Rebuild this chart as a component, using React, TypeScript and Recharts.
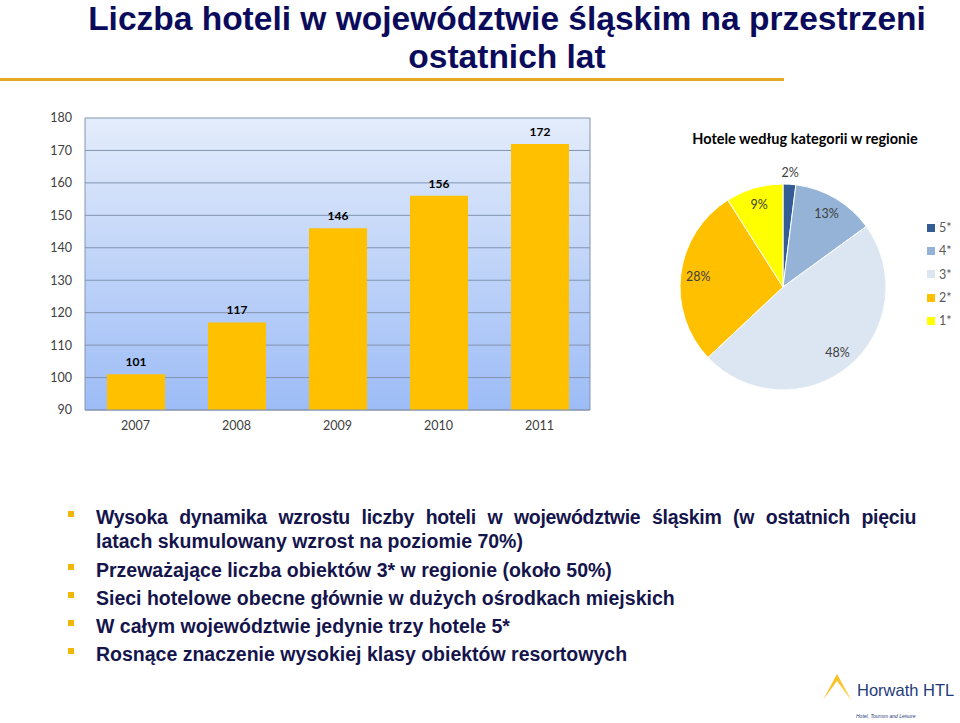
import React from 'react';
import { BarChart, Bar, XAxis, YAxis, CartesianGrid, LabelList, PieChart, Pie, Cell, Legend } from 'recharts';

const years = ['2007', '2008', '2009', '2010', '2011'];
const hotelCounts = [101, 117, 146, 156, 172];
const yTicks = [90, 100, 110, 120, 130, 140, 150, 160, 170, 180];

const categories = ['5*', '4*', '3*', '2*', '1*'];
const categoryShares = [2, 13, 48, 28, 9];
const categoryColors = ['#335d94', '#95b3d7', '#dce6f2', '#ffc000', '#ffff00'];

const titleLines = ['Liczba hoteli w województwie śląskim na przestrzeni', 'ostatnich lat'];
const pieTitle = 'Hotele według kategorii w regionie';
const bulletFirstLine = 'Wysoka dynamika wzrostu liczby hoteli w województwie śląskim (w ostatnich pięciu';
const bulletFirstWrap = 'latach skumulowany wzrost na poziomie 70%)';
const bulletOthers = [
  'Przeważające liczba obiektów 3* w regionie (około 50%)',
  'Sieci hotelowe obecne głównie w dużych ośrodkach miejskich',
  'W całym województwie jedynie trzy hotele 5*',
  'Rosnące znaczenie wysokiej klasy obiektów resortowych',
];

const barData = years.map((year, i) => ({ year, count: hotelCounts[i] }));
const pieData = categories.map((name, i) => ({ name, value: categoryShares[i] }));

const RAD = Math.PI / 180;
const chartFont = 'Lato, "Open Sans", sans-serif';

const renderPieLabel = (props: any) => {
  const { cx, cy, midAngle, outerRadius, value } = props;
  const r = value < 5 ? outerRadius + 12 : outerRadius * 0.83;
  const x = cx + r * Math.cos(-midAngle * RAD);
  const y = cy + r * Math.sin(-midAngle * RAD);
  return (
    <text x={x} y={y} textAnchor="middle" dominantBaseline="central" fill="#404040" fontSize={12.5} fontFamily={chartFont}>
      {value}%
    </text>
  );
};

const PieLegend = () => (
  <div style={{ fontFamily: chartFont, fontSize: 12.5, color: '#595959' }}>
    {categories.map((c, i) => (
      <div key={c} style={{ display: 'flex', alignItems: 'center', height: 23.3 }}>
        <div style={{ width: 8, height: 8, background: categoryColors[i], marginRight: 4 }} />
        <span>{c}</span>
      </div>
    ))}
  </div>
);

const navy = '#0b0b5c';
const textNavy = '#15154c';

export default function App() {
  const bulletLines = [
    { text: bulletFirstLine, y: 517, bullet: true, justify: true },
    { text: bulletFirstWrap, y: 541, bullet: false, justify: false },
    ...bulletOthers.map((t, i) => ({ text: t, y: 570 + i * 28, bullet: true, justify: false })),
  ];
  return (
    <div style={{ position: 'absolute', left: 0, top: 0, width: 960, height: 723, background: '#fff', overflow: 'hidden' }}>
      {/* Title */}
      <div
        style={{
          position: 'absolute',
          left: 57,
          top: 0,
          width: 900,
          textAlign: 'center',
          fontFamily: '"Liberation Sans", Arial, sans-serif',
          fontWeight: 'bold',
          fontSize: 33.5,
          color: navy,
        }}
      >
        <div style={{ lineHeight: '37px', height: 37 }}>{titleLines[0]}</div>
        <div style={{ lineHeight: '40px', height: 40 }}>{titleLines[1]}</div>
      </div>
      <div style={{ position: 'absolute', left: 0, top: 78, width: 784, height: 3, background: '#e3aa22' }} />

      {/* Bar chart */}
      <div style={{ position: 'absolute', left: 20, top: 100 }}>
        <BarChart width={572} height={340} data={barData} margin={{ top: 18, right: 2, bottom: 0, left: 0 }}>
          <defs>
            <linearGradient id="plotBg" x1="0" y1="0" x2="0" y2="1">
              <stop offset="0%" stopColor="#e3ecfb" />
              <stop offset="100%" stopColor="#9dbcf6" />
            </linearGradient>
          </defs>
          <CartesianGrid
            fill="url(#plotBg)"
            fillOpacity={1}
            stroke="#8394b0"
            vertical={true}
            verticalCoordinatesGenerator={({ offset }: any) => [offset.left, offset.left + offset.width]}
          />
          <XAxis
            dataKey="year"
            axisLine={{ stroke: '#8394b0' }}
            tickLine={false}
            tickMargin={5}
            height={30}
            tick={{ fill: '#404040', fontSize: 12.5, fontFamily: chartFont }}
          />
          <YAxis
            domain={[90, 180]}
            ticks={yTicks}
            width={65}
            axisLine={false}
            tickLine={false}
            tickMargin={7}
            interval={0}
            tick={{ fill: '#404040', fontSize: 12.5, fontFamily: chartFont }}
          />
          <Bar dataKey="count" fill="#ffc000" barSize={58} isAnimationActive={false}>
            <LabelList dataKey="count" position="top" offset={8} fill="#000" fontSize={12} fontWeight="bold" fontFamily={chartFont} />
          </Bar>
        </BarChart>
      </div>

      {/* Pie chart */}
      <div
        style={{
          position: 'absolute',
          left: 655,
          top: 130,
          width: 300,
          textAlign: 'center',
          fontFamily: chartFont,
          fontWeight: 'bold',
          fontSize: 14.5,
          color: '#000',
        }}
      >
        {pieTitle}
      </div>
      <div style={{ position: 'absolute', left: 660, top: 110 }}>
        <PieChart width={300} height={300} margin={{ top: 0, right: 0, bottom: 0, left: 0 }}>
          <Pie
            data={pieData}
            dataKey="value"
            nameKey="name"
            cx={123}
            cy={177}
            outerRadius={103}
            startAngle={90}
            endAngle={-270}
            stroke="#ffffff"
            strokeWidth={1}
            label={renderPieLabel}
            labelLine={false}
            isAnimationActive={false}
          >
            {pieData.map((d, i) => (
              <Cell key={d.name} fill={categoryColors[i]} />
            ))}
          </Pie>
          <Legend
            content={() => <PieLegend />}
            wrapperStyle={{ position: 'absolute', left: 267, top: 106, width: 40 }}
          />
        </PieChart>
      </div>

      {/* Bullets */}
      {bulletLines.map((b, i) => (
        <div
          key={i}
          style={{
            position: 'absolute',
            left: 96,
            top: b.y - 12,
            width: 820,
            height: 24,
            lineHeight: '24px',
            fontFamily: '"Liberation Sans", Arial, sans-serif',
            fontWeight: 'bold',
            fontSize: 19.5,
            letterSpacing: b.justify ? -0.3 : 0,
            color: textNavy,
            textAlign: b.justify ? 'justify' : 'left',
            textAlignLast: b.justify ? 'justify' : 'left',
            whiteSpace: 'nowrap',
          } as React.CSSProperties}
        >
          {b.text}
        </div>
      ))}
      {bulletLines.filter((b) => b.bullet).map((b, i) => (
        <div key={'sq' + i} style={{ position: 'absolute', left: 68, top: b.y - 6, width: 6, height: 6, background: '#f2b705' }} />
      ))}

      {/* Logo */}
      <svg style={{ position: 'absolute', left: 815, top: 668 }} width={145} height={55}>
        <defs>
          <linearGradient id="logoG" x1="0" y1="0" x2="1" y2="1">
            <stop offset="0%" stopColor="#f7b500" />
            <stop offset="100%" stopColor="#fdd86a" />
          </linearGradient>
        </defs>
        <polygon points="8,32 22,6 37,33 30,24 22,13 14,24" fill="url(#logoG)" />
        <text x={42} y={28} fontFamily='"Liberation Sans", Arial, sans-serif' fontSize={16.5} fill="#1f3b7b">
          Horwath HTL
        </text>
        <text x={41} y={50} fontFamily='"Liberation Sans", Arial, sans-serif' fontSize={5} fontStyle="italic" fill="#1f3b7b">
          Hotel, Tourism and Leisure
        </text>
      </svg>
    </div>
  );
}
